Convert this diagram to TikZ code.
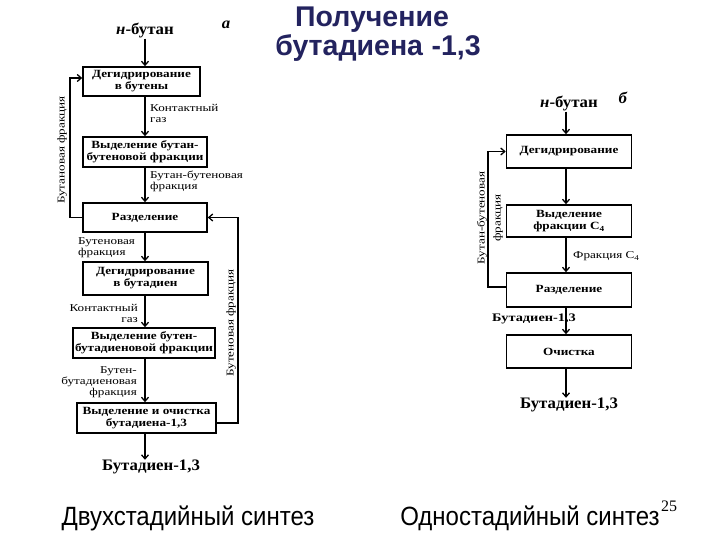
\documentclass[tikz,border=0pt]{standalone}
\usepackage{fontspec}
\usepackage{graphicx}
\setmainfont{Liberation Serif}
\newfontfamily\sansf{Liberation Sans}
\newfontfamily\boxf[FakeStretch=1.2]{Liberation Serif}
\newfontfamily\lblf[FakeStretch=1.25]{Liberation Serif}
\newfontfamily\bigf[FakeStretch=1.05]{Liberation Serif}
\usetikzlibrary{arrows.meta}
\definecolor{titlec}{RGB}{35,35,95}
\tikzset{
  bx/.style={draw, line width=1.6pt, inner sep=0pt, align=center,
    font=\boxf\bfseries\fontsize{11}{12}\selectfont},
  lbl/.style={inner sep=0pt, font=\lblf\fontsize{10.5}{11}\selectfont},
  conn/.style={line width=1.3pt, -{Straight Barb[length=4pt,width=7pt,line width=1.3pt]}},
  big/.style={inner sep=0pt, font=\bigf\bfseries\fontsize{16}{18}\selectfont},
  ttl/.style={inner sep=0pt, anchor=base, font=\sansf\bfseries\fontsize{28.5}{31}\selectfont, text=titlec},
  captxt/.style={inner sep=0pt, anchor=base, font=\sansf\fontsize{24}{26}\selectfont},
}
\begin{document}
\begin{tikzpicture}[x=1pt,y=-1pt]
\useasboundingbox[fill=white] (0,0) rectangle (720,540);
% title
\node[ttl] (t1) at (372,27) {Получение};
\node[ttl] (t2) at (378,56) {бутадиена\hspace{0.3em}-1,3};
% left scheme
\node[big] (n1) at (145,31) {\textit{н}-бутан};
\node[big] (la) at (226,25) {\textit{а}};
\node[bx, minimum width=117pt, minimum height=29pt] (b1) at (141.5,81.5) {Дегидрирование\\в бутены};
\node[bx, minimum width=124pt, minimum height=30pt] (b2) at (145,152) {Выделение бутан-\\бутеновой фракции};
\node[bx, minimum width=124pt, minimum height=29pt] (b3) at (145,217.5) {Разделение};
\node[bx, minimum width=125pt, minimum height=33pt] (b4) at (145.5,278.5) {Дегидрирование\\в бутадиен};
\node[bx, minimum width=142pt, minimum height=30pt] (b5) at (144,343) {Выделение бутен-\\бутадиеновой фракции};
\node[bx, minimum width=139pt, minimum height=30pt] (b6) at (146.5,418) {Выделение и очистка\\бутадиена-1,3};
\node[big] (o1) at (151,467) {Бутадиен-1,3};
\coordinate (M) at (145,0);
\coordinate (L) at (70,0);
\coordinate (R) at (238,0);
\draw[conn] (n1.south -| M) -- (b1.north -| M);
\draw[conn] (b1.south -| M) -- (b2.north -| M);
\draw[conn] (b2.south -| M) -- (b3.north -| M);
\draw[conn] (b3.south -| M) -- (b4.north -| M);
\draw[conn] (b4.south -| M) -- (b5.north -| M);
\draw[conn] (b5.south -| M) -- (b6.north -| M);
\draw[conn] (b6.south -| M) -- (o1.north -| M);
\draw[conn] (b3.west) -- (b3.west -| L) |- ([yshift=3.5pt]b1.west);
\draw[conn] ([yshift=-5pt]b6.east) -- ([yshift=-5pt]b6.east -| R) |- (b3.east);
\node[lbl, anchor=north west, align=left] (l1) at (150,104) {Контактный\\газ};
\node[lbl, anchor=north west, align=left] (l2) at (150,171) {Бутан-бутеновая\\фракция};
\node[lbl, anchor=north west, align=left] (l3) at (78,237) {Бутеновая\\фракция};
\node[lbl, anchor=north east, align=right] (l4) at (138,304) {Контактный\\газ};
\node[lbl, anchor=north east, align=right] (l5) at (137,366) {Бутен-\\бутадиеновая\\фракция};
\node[lbl, rotate=90] (l6) at (62,150) {Бутановая фракция};
\node[lbl, rotate=90] (l7) at (231,323) {Бутеновая фракция};
% right scheme
\node[big] (n2) at (569,104) {\textit{н}-бутан};
\node[big] (lb) at (623,98) {\textit{б}};
\node[bx, minimum width=125pt, minimum height=33pt] (c1) at (569,151.5) {Дегидрирование};
\node[bx, minimum width=125pt, minimum height=32pt] (c2) at (569,221) {Выделение\\фракции C\textsubscript{4}};
\node[bx, minimum width=125pt, minimum height=34pt] (c3) at (569,290) {Разделение};
\node[bx, minimum width=125pt, minimum height=33pt] (c4) at (569,351.5) {Очистка};
\node[big] (o2) at (569,405) {Бутадиен-1,3};
\coordinate (N) at (566,0);
\coordinate (L2) at (488,0);
\draw[conn] (n2.south -| N) -- (c1.north -| N);
\draw[conn] (c1.south -| N) -- (c2.north -| N);
\draw[conn] (c2.south -| N) -- (c3.north -| N);
\draw[conn] (c3.south -| N) -- (c4.north -| N);
\draw[conn] (c4.south -| N) -- (o2.north -| N);
\draw[conn] ([yshift=3pt]c3.west) -- ([yshift=3pt]c3.west -| L2) |- (c1.west);
\node[lbl, anchor=west] (m1) at (573,256) {Фракция C\textsubscript{4}};
\node[lbl, anchor=west, font=\lblf\bfseries\fontsize{11.5}{12}\selectfont] (m2) at (492,319) {Бутадиен-1,3};
\node[lbl, rotate=90, align=center, font=\lblf\fontsize{10.5}{16}\selectfont] (m3) at (490,218) {Бутан-бутеновая\\фракция};
% captions
\node[captxt] (s1) at (188,525) {\scalebox{1}[1.1]{Двухстадийный синтез}};
\node[captxt] (s2) at (530,525) {\scalebox{1}[1.1]{Одностадийный синтез}};
\node[inner sep=0pt, anchor=base, font=\fontsize{16}{18}\selectfont] (pg) at (669,511) {25};
\end{tikzpicture}
\end{document}
